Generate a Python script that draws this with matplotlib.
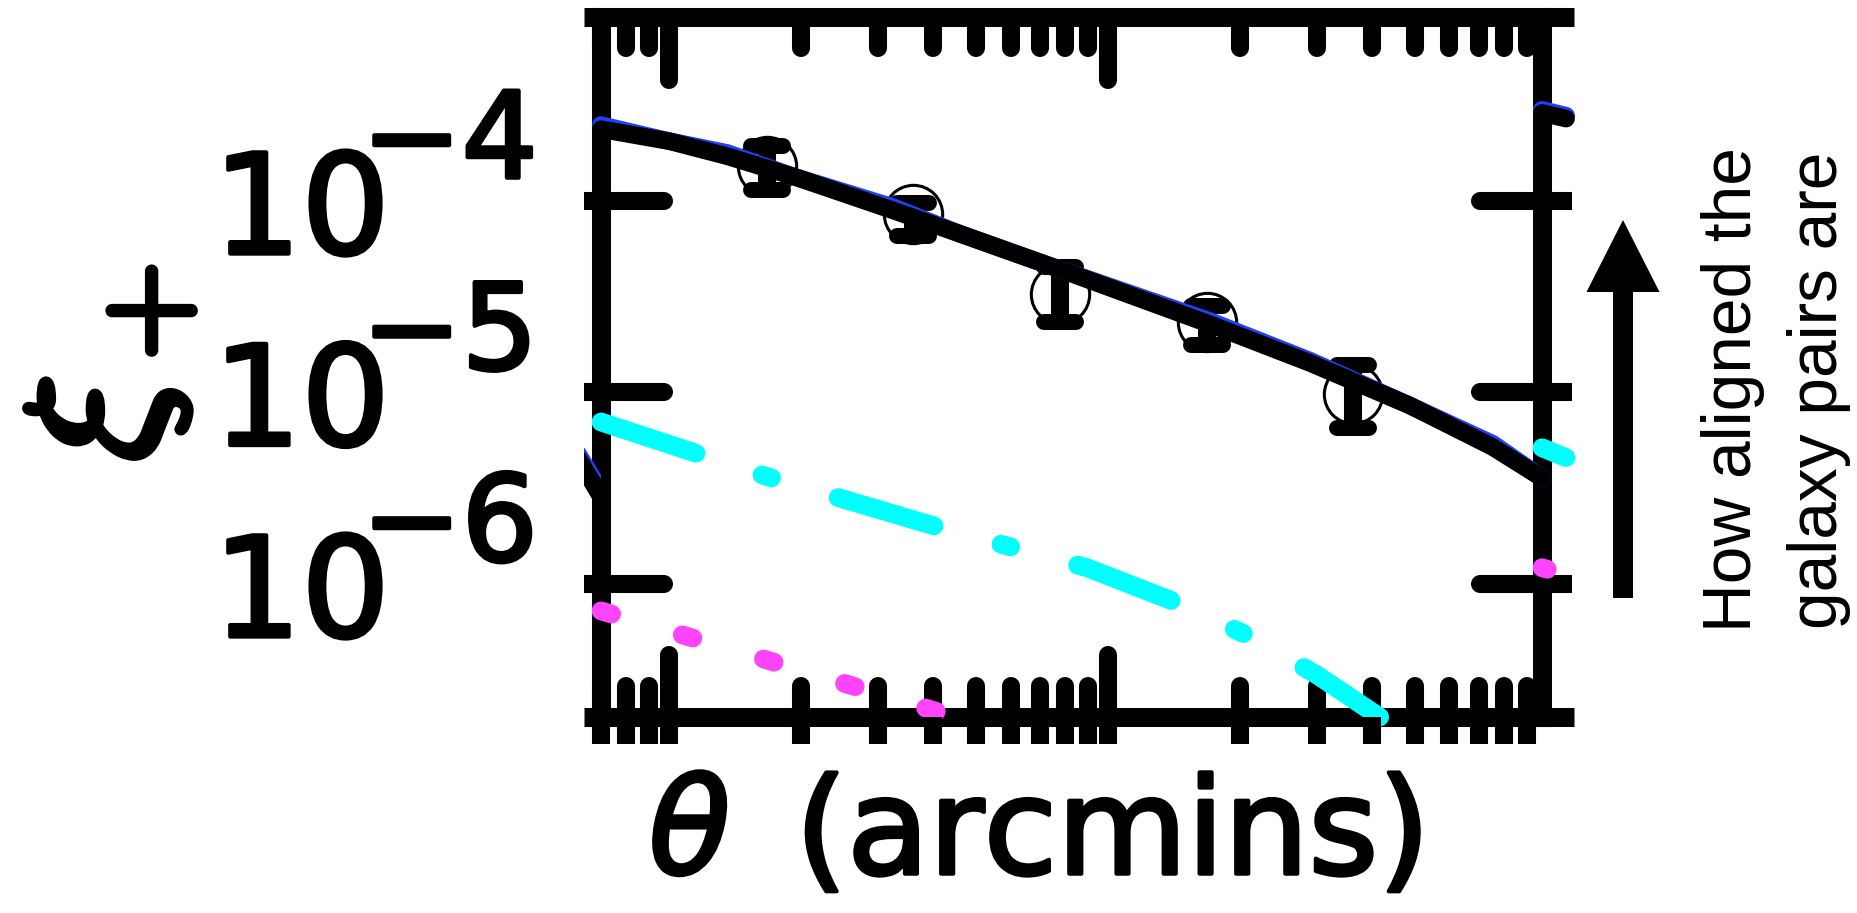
import math
import matplotlib
matplotlib.use("Agg")
import matplotlib.pyplot as plt
import matplotlib.patheffects as pe
from matplotlib import ticker
from matplotlib.markers import MarkerStyle
from matplotlib.patches import FancyArrow

# model curves (theta in arcmin)
theta_model = [0.70, 1.005, 1.356, 1.916, 3.237, 4.60, 7.78, 17.07, 28.85, 48.75, 75.3, 97.5]
xi_total = [2.36e-4, 2.04e-4, 1.706e-4, 1.34e-4, 8.89e-5, 6.71e-5, 4.37e-5,
            2.26e-5, 1.42e-5, 8.51e-6, 5.16e-6, 3.56e-6]
xi_total_alt = [2.48e-4, 2.04e-4, 1.774e-4, 1.34e-4, 9.25e-5, 6.71e-5, 4.37e-5,
                2.35e-5, 1.46e-5, 8.51e-6, 5.37e-6, 3.56e-6]

theta_ii = [0.70, 1.68, 4.08, 8.96, 14.4, 20.9, 29.9, 41.6]
xi_ii = [6.98e-6, 3.61e-6, 1.98e-6, 1.21e-6, 7.93e-7, 5.33e-7, 3.34e-7, 2.01e-7]

theta_gi = [0.70, 1.5, 3.0, 4.48]
xi_gi = [7.2e-7, 4.3e-7, 2.66e-7, 2.01e-7]

# measurements
theta_obs = [1.67, 3.60, 7.78, 16.8, 36.1]
xi_obs = [1.52e-4, 8.47e-5, 3.26e-5, 2.33e-5, 9.80e-6]
xi_bin = [1.48e-4, 7.98e-5, 3.24e-5, 2.24e-5, 9.50e-6]
xi_bin_lo = [1.14e-4, 6.54e-5, 2.33e-5, 1.77e-5, 6.50e-6]
xi_bin_hi = [1.93e-4, 9.73e-5, 4.51e-5, 2.82e-5, 1.39e-5]

# edges of the neighbouring panels
theta_left = [88.0, 97.5]
xi_left = [4.2e-6, 2.84e-6]
xi_left_alt = [4.4e-6, 3.0e-6]
theta_right = [0.70, 0.794]
xi_right = [2.87e-4, 2.68e-4]
xi_right_alt = [2.97e-4, 2.77e-4]
xi_right_ii = [5.12e-6, 4.55e-6]
xi_right_gi = [1.21e-6, 1.11e-6]

XLIM = (0.70, 97.5)
YLIM = (2.01e-7, 9.04e-4)

plt.rcParams['lines.scale_dashes'] = False

W, H = 1857, 913
fig = plt.figure(figsize=(W / 100, H / 100), dpi=100)


def px_axes(x0, x1, y0, y1):
    # box given in pixels, y counted from the top
    return fig.add_axes([x0 / W, 1 - y1 / H, (x1 - x0) / W, (y1 - y0) / H])


def heavy(lw):
    return [pe.withStroke(linewidth=lw, foreground='black',
                          joinstyle='round', capstyle='round')]


SPINE_W = 13.7
TICK_W = 13

ax = px_axes(601, 1542, 17.5, 717)
ax.set_xscale('log')
ax.set_yscale('log')
ax.set_xlim(*XLIM)
ax.set_ylim(*YLIM)
ax.xaxis.set_major_locator(ticker.LogLocator(base=10))
ax.xaxis.set_minor_locator(ticker.LogLocator(base=10, subs=(2, 3, 4, 5, 6, 7, 8, 9)))
ax.xaxis.set_major_formatter(ticker.NullFormatter())
ax.xaxis.set_minor_formatter(ticker.NullFormatter())
ax.yaxis.set_minor_locator(ticker.NullLocator())
# mantissa as the tick label, exponent added separately further up
ax.yaxis.set_major_formatter(ticker.FuncFormatter(lambda v, pos: '10'))
for s in ax.spines.values():
    s.set_linewidth(SPINE_W)
    s.set_capstyle('projecting')
ax.tick_params(which='both', direction='in', top=True, right=True,
               width=TICK_W, color='black', labelbottom=False, labelright=False)
ax.tick_params(which='major', length=45)
ax.tick_params(which='minor', length=22)
ax.tick_params(axis='y', labelsize=100, pad=152)

# curves
ax.plot(theta_model, xi_total_alt, color='#2040ff', lw=12.7, solid_capstyle='round',
        clip_on=False, zorder=3)
ax.plot(theta_model, xi_total, color='black', lw=12.7, solid_capstyle='round',
        clip_on=False, zorder=4)
ax.plot(theta_ii, xi_ii, color='#00ffff', lw=13.5, dashes=(72, 50, 7.2, 50),
        dash_capstyle='round', clip_on=False, zorder=3)
ax.plot(theta_gi, xi_gi, color='#ff44ff', lw=13.5, dashes=(8, 53),
        dash_capstyle='round', clip_on=False, zorder=3)

# data points
ax.plot(theta_obs, xi_obs, 'o', ms=42, mfc='none', mec='black', mew=2.2,
        zorder=2.6)
yerr = [[c - lo for c, lo in zip(xi_bin, xi_bin_lo)],
        [hi - c for c, hi in zip(xi_bin, xi_bin_hi)]]
eb = ax.errorbar(theta_obs, xi_bin, yerr=yerr, fmt='none', ecolor='black',
                 elinewidth=13, capsize=11.5, capthick=11.5, zorder=2.7)
for cap in eb[1]:
    cap.set_marker(MarkerStyle('_', capstyle='round'))

ax.set_ylabel(r'$\xi_+$', fontsize=130, math_fontfamily='cm')
ax.yaxis.set_label_coords(-0.43, 0.505)
ax.yaxis.label.set_path_effects(heavy(6))
ax.set_xlabel(r'$\theta\enspace$(arcmins)', fontsize=96)
ax.xaxis.set_label_coords(0.461, -0.0786)
ax.xaxis.label.set_path_effects(heavy(3.0))
for lab in ax.get_yticklabels():
    lab.set_path_effects(heavy(3.0))
for v in ax.get_yticks():
    if YLIM[0] <= v <= YLIM[1]:
        ax.annotate('\u2212%d' % round(-math.log10(v)), xy=(0, v),
                    xycoords=('axes fraction', 'data'), xytext=(-45.5, 16.5),
                    textcoords='offset points', ha='right', va='baseline',
                    fontsize=86, path_effects=heavy(3.0), annotation_clip=False)

# rounded inner ends on the ticks
for axis in (ax.xaxis, ax.yaxis):
    for line in list(axis.get_ticklines()) + list(axis.get_ticklines(minor=True)):
        line.set_marker(MarkerStyle(line.get_marker(), capstyle='round'))


def sliver(x0, x1, y0, y1):
    a = px_axes(x0, x1, y0, y1)
    a.set_xscale('log')
    a.set_yscale('log')
    a.patch.set_visible(False)
    for s in a.spines.values():
        s.set_visible(False)
        s.set_linewidth(SPINE_W)
        s.set_capstyle('butt')
    a.tick_params(which='both', direction='in', width=TICK_W, color='black',
                  bottom=False, top=False, left=False, right=False,
                  labelbottom=False, labelleft=False)
    a.yaxis.set_minor_locator(ticker.NullLocator())
    return a


# panel to the left
axl = sliver(584, 601, 17.5, 717)
axl.set_xlim(89.1, 97.5)
axl.set_ylim(*YLIM)
axl.xaxis.set_minor_locator(ticker.NullLocator())
axl.spines['top'].set_visible(True)
axl.spines['bottom'].set_visible(True)
axl.tick_params(axis='y', which='major', right=True, length=12.2)
axl.plot(theta_left, xi_left_alt, color='#2040ff', lw=13)
axl.plot(theta_left, xi_left, color='black', lw=12.7)

# panel to the right
axr = sliver(1542, 1574, 17.5, 717)
axr.set_xlim(0.70, 0.828)
axr.set_ylim(*YLIM)
axr.xaxis.set_minor_locator(ticker.NullLocator())
axr.spines['top'].set_visible(True)
axr.spines['bottom'].set_visible(True)
axr.tick_params(axis='y', which='major', left=True, length=21.6)
axr.plot(theta_right, xi_right_alt, color='#2040ff', lw=13, solid_capstyle='round',
         clip_on=False)
axr.plot(theta_right, xi_right, color='black', lw=12.7, solid_capstyle='round',
         clip_on=False)
axr.plot(theta_right, xi_right_ii, color='#00ffff', lw=13.5, dashes=(72, 50, 7.2, 50),
         dash_capstyle='round', clip_on=False)
axr.plot(theta_right, xi_right_gi, color='#ff44ff', lw=13.5, dashes=(4, 53),
         dash_capstyle='round', clip_on=False)

# panel below
axb = sliver(601, 1542, 717, 744)
axb.set_xlim(*XLIM)
axb.set_ylim(1, 10)
axb.xaxis.set_major_locator(ticker.LogLocator(base=10))
axb.xaxis.set_minor_locator(ticker.LogLocator(base=10, subs=(2, 3, 4, 5, 6, 7, 8, 9)))
axb.xaxis.set_minor_formatter(ticker.NullFormatter())
axb.tick_params(axis='x', which='both', top=True, length=19.4, labeltop=False)

# annotation on the right
arrow = FancyArrow(16.23, 3.15, 0, 3.78, width=0.20, head_width=0.73,
                   head_length=0.72, length_includes_head=True,
                   color='black', lw=0, transform=fig.dpi_scale_trans)
fig.add_artist(arrow)
fig.text(1776 / W, 1 - 390 / H, 'How aligned the\ngalaxy pairs are',
         rotation=90, ha='center', va='center', multialignment='center',
         fontsize=48.7, family='Liberation Sans', linespacing=1.45)

fig.savefig('out.png', dpi=100)
